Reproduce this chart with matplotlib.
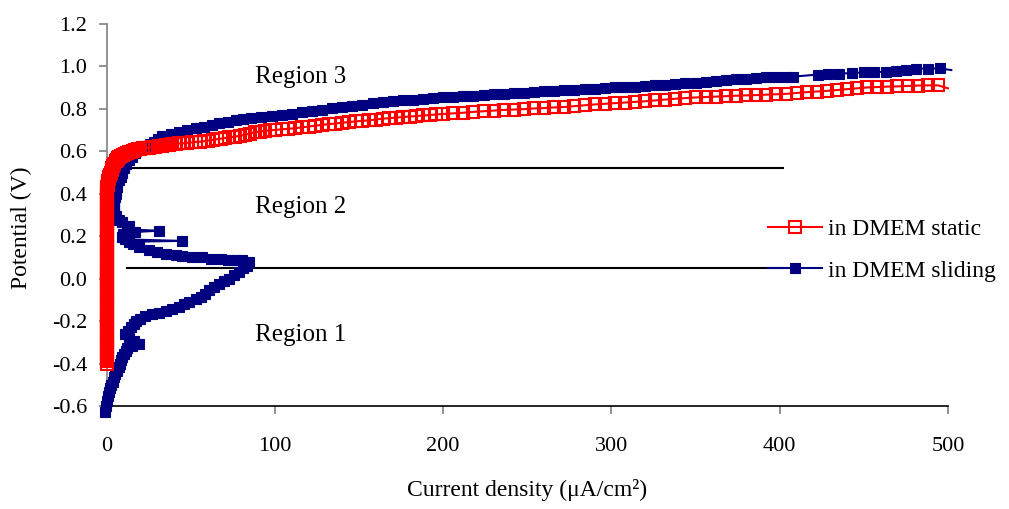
import matplotlib
matplotlib.use("Agg")
import matplotlib.pyplot as plt

plt.rcParams['font.family'] = ['Liberation Serif', 'DejaVu Serif']

# --- Sliding in DMEM: current density (uA/cm2) and potential (V), in scan order
sliding_i = [
    -0.8, -0.6, 0.0, 0.8, 1.4, 2.0, 2.8, 3.6, 4.3, 5.2, 6.2, 7.3, 8.0, 8.8, 9.3,
    10.3, 11.3, 12.3, 15, 19, 16, 13, 11, 12.5, 14.5, 16, 17.5, 20, 23, 27, 31,
    35, 39, 43, 46, 49, 53, 56, 58.5, 61, 64, 66.7, 69.5, 72.6, 75.5, 78.5, 81,
    83.5, 84.5,
    80.5, 76.6, 72, 67.7, 62, 56.8, 50.9, 45, 41, 35, 30, 25, 19, 15.5, 13,
    45, 11, 9.3, 10, 17, 31, 12, 13, 9, 7.3, 5.5, 4.5, 4.3, 4.3, 4.3, 4.5, 5,
    5.3, 5.6, 6, 6.3, 7.3, 8.3, 9.3, 10.3, 11.5, 13, 15, 17, 20, 23, 25.5, 28,
    30.5, 33, 38, 43, 48, 53, 58, 62.7, 67, 72, 77, 81, 86,
    92, 98, 104, 110, 116, 122, 128, 134, 140, 146, 152, 158, 164, 170, 176,
    182, 188, 194, 200, 206, 212, 218, 224, 230, 236, 242, 248, 254, 260, 266,
    272, 278, 284, 290, 296, 302, 308, 314, 320, 326, 332, 338, 344, 350, 356,
    362, 368, 374, 380, 386, 392, 398, 404, 408, 423, 429, 435, 443, 450, 456,
    463, 469, 475, 481, 488, 495, 502,
]
sliding_e = [
    -0.63, -0.60, -0.575, -0.555, -0.535, -0.515, -0.50, -0.485, -0.465, -0.45,
    -0.435, -0.418, -0.40, -0.385, -0.37, -0.355, -0.34, -0.325, -0.318, -0.308,
    -0.295, -0.28, -0.262, -0.245, -0.23, -0.215, -0.20, -0.19, -0.178, -0.168,
    -0.16, -0.152, -0.143, -0.132, -0.12, -0.11, -0.098, -0.085, -0.07, -0.055,
    -0.04, -0.025, -0.012, 0.0, 0.016, 0.033, 0.048, 0.062, 0.078,
    0.088, 0.090, 0.090, 0.091, 0.095, 0.100, 0.103, 0.108, 0.110, 0.118, 0.126,
    0.135, 0.150, 0.162, 0.174,
    0.178, 0.185, 0.198, 0.21, 0.22, 0.226, 0.232, 0.25, 0.265, 0.277, 0.295,
    0.31, 0.324, 0.34, 0.355, 0.37, 0.385, 0.40, 0.415, 0.43, 0.45, 0.465,
    0.48, 0.50, 0.52, 0.54, 0.56, 0.575, 0.59, 0.61, 0.627, 0.636, 0.645,
    0.658, 0.67, 0.68, 0.69, 0.70, 0.709, 0.717, 0.724, 0.732, 0.74, 0.748,
    0.752, 0.757,
    0.761, 0.766, 0.772, 0.778, 0.784, 0.790, 0.796, 0.802, 0.808, 0.814,
    0.820, 0.826, 0.832, 0.836, 0.840, 0.844, 0.848, 0.851, 0.854, 0.857,
    0.860, 0.863, 0.866, 0.868, 0.870, 0.873, 0.876, 0.879, 0.883, 0.886,
    0.889, 0.891, 0.893, 0.895, 0.898, 0.901, 0.903, 0.905, 0.908, 0.912,
    0.915, 0.918, 0.921, 0.924, 0.928, 0.932, 0.936, 0.940, 0.943, 0.946,
    0.948, 0.950, 0.951, 0.952, 0.962, 0.964, 0.966, 0.969, 0.972, 0.973,
    0.975, 0.979, 0.984, 0.990, 0.990, 0.991, 0.983,
]

# --- Static in DMEM (near-zero current up to ~0.44 V, then the anodic rise)
static_i = [
    0.3, 0.4, 0.3, 0.2, 0.3, 0.4, 0.3, 0.2, 0.3, 0.4,
    0.3, 0.2, 0.3, 0.4, 0.3, 0.2, 0.3, 0.4, 0.3, 0.2,
    0.3, 0.4, 0.3, 0.2, 0.3, 0.4, 0.3, 0.2, 0.3, 0.4,
    0.3, 0.2, 0.3, 0.4, 0.3, 0.2, 0.3, 0.4, 0.3, 0.2,
    0.3, 0.4, 0.3, 0.2, 0.3, 0.4, 0.3, 0.2, 0.3, 0.4,
    0.3, 0.2, 0.3, 0.4, 0.3, 0.2, 0.3, 0.4, 0.3, 0.2,
    0.3, 0.4, 0.3, 0.2, 0.3, 0.4, 0.3, 0.2, 0.3, 0.4,
    0.3, 0.2, 0.3, 0.4, 0.3, 0.2, 0.3, 0.4, 0.3, 0.3,
    0.4, 0.4, 0.5, 0.5, 0.6,
    0.8, 1.0, 1.3, 1.6, 2.0, 2.4, 2.9, 3.4, 4.0, 4.6,
    5.3, 6, 6.7, 7.5, 8.5, 9.5, 10.7, 12, 13.2, 14.5,
    15.7, 17, 18.5, 20, 21.7, 23.5, 25.2, 27, 29, 31,
    33, 35, 37, 39, 41, 43, 45.5, 48, 50.5, 53,
    55.5, 58, 60.5, 63, 65.5, 68, 70.5, 73, 76, 79,
    82, 85, 88, 91, 94, 97,
    100, 104, 108, 112, 116, 120, 124, 128, 132, 136,
    140, 144, 148, 152, 156, 160, 164, 168, 172, 176,
    180, 184, 188, 192, 196, 200,
    206, 212, 218, 224, 230, 236, 242, 248, 254, 260,
    266, 272, 278, 284, 290, 296, 302, 308, 314, 320,
    326, 332, 338, 344, 350, 356, 362, 368, 374, 380,
    386, 392, 398, 404, 410, 416, 422, 428, 434, 440,
    446, 452, 458, 464, 470, 476, 482, 488, 494, 500,
]
static_e = [
    -0.40, -0.39, -0.38, -0.37, -0.36, -0.35, -0.34, -0.33, -0.32, -0.31,
    -0.30, -0.29, -0.28, -0.27, -0.26, -0.25, -0.24, -0.23, -0.22, -0.21,
    -0.20, -0.19, -0.18, -0.17, -0.16, -0.15, -0.14, -0.13, -0.12, -0.11,
    -0.10, -0.09, -0.08, -0.07, -0.06, -0.05, -0.04, -0.03, -0.02, -0.01,
    0.00, 0.01, 0.02, 0.03, 0.04, 0.05, 0.06, 0.07, 0.08, 0.09,
    0.10, 0.11, 0.12, 0.13, 0.14, 0.15, 0.16, 0.17, 0.18, 0.19,
    0.20, 0.21, 0.22, 0.23, 0.24, 0.25, 0.26, 0.27, 0.28, 0.29,
    0.30, 0.31, 0.32, 0.33, 0.34, 0.35, 0.36, 0.37, 0.38, 0.39,
    0.40, 0.41, 0.42, 0.43, 0.44,
    0.45, 0.46, 0.47, 0.48, 0.49, 0.50, 0.51, 0.52, 0.53, 0.54,
    0.555, 0.561, 0.567, 0.572, 0.577, 0.582, 0.586, 0.590, 0.595, 0.599,
    0.603, 0.606, 0.609, 0.612, 0.614, 0.616, 0.618, 0.620, 0.622, 0.625,
    0.627, 0.629, 0.631, 0.633, 0.635, 0.637, 0.638, 0.640, 0.642, 0.644,
    0.645, 0.648, 0.651, 0.654, 0.657, 0.660, 0.663, 0.666, 0.669, 0.673,
    0.678, 0.684, 0.690, 0.693, 0.696, 0.699,
    0.701, 0.704, 0.706, 0.709, 0.713, 0.717, 0.721, 0.725, 0.728, 0.731,
    0.735, 0.738, 0.741, 0.744, 0.746, 0.750, 0.754, 0.756, 0.759, 0.762,
    0.764, 0.766, 0.769, 0.771, 0.774, 0.776,
    0.779, 0.782, 0.786, 0.789, 0.792, 0.795, 0.797, 0.799, 0.802, 0.804,
    0.807, 0.809, 0.813, 0.817, 0.821, 0.824, 0.827, 0.830, 0.833, 0.836,
    0.840, 0.844, 0.848, 0.851, 0.854, 0.856, 0.858, 0.860, 0.862, 0.864,
    0.865, 0.867, 0.869, 0.871, 0.875, 0.879, 0.882, 0.885, 0.889, 0.893,
    0.897, 0.901, 0.903, 0.905, 0.906, 0.908, 0.910, 0.911, 0.911, 0.897,
]
assert len(static_i) == len(static_e)
assert len(sliding_i) == len(sliding_e)

# Region boundaries (potential, V) and their current-density extent
boundary_e = [0.522, 0.052]
boundary_i = [12, 402]

region_labels = ["Region 3", "Region 2", "Region 1"]
region_pos = [(115, 0.95), (115, 0.338), (115, -0.265)]

x_ticks = [0, 100, 200, 300, 400, 500]
y_ticks = [-0.6, -0.4, -0.2, 0.0, 0.2, 0.4, 0.6, 0.8, 1.0, 1.2]

fig = plt.figure(figsize=(10.09, 5.09), dpi=100)
ax = fig.add_axes([0.1057, 0.2024, 0.8338, 0.7504])

navy = "#000080"
red = "#ff0000"

ax.plot(sliding_i, sliding_e, color=navy, lw=1.5, marker="s", ms=7.0,
        mfc=navy, mec=navy, mew=0.8, markevery=slice(0, len(sliding_i) - 1),
        clip_on=False, zorder=3, label="in DMEM sliding")
ax.plot(static_i, static_e, color=red, lw=1.5, marker="s", ms=8.0,
        mfc="none", mec=red, mew=1.5, markevery=slice(0, len(static_i) - 1),
        clip_on=False, zorder=4, label="in DMEM static")

for e in boundary_e:
    ax.plot(boundary_i, [e, e], color="black", lw=1.5, zorder=2)

for txt, (x, y) in zip(region_labels, region_pos):
    ax.text(x, y, txt, fontsize=18, ha="center", va="center")

ax.set_xlim(0, 500)
ax.set_ylim(-0.6, 1.2)
ax.set_xticks(x_ticks)
ax.set_yticks(y_ticks)
ax.set_yticklabels([f"{v:.1f}" for v in y_ticks])

for side in ("top", "right"):
    ax.spines[side].set_visible(False)
ax.spines["left"].set_color("#808080")
ax.spines["bottom"].set_color("#000000")
ax.spines["left"].set_linewidth(1.2)
ax.spines["bottom"].set_linewidth(1.2)

ax.tick_params(axis="y", direction="out", length=6, width=1.2, color="#808080",
               labelsize=16, pad=8)
ax.tick_params(axis="x", direction="out", length=6, width=1.2, color="#808080",
               labelsize=16, pad=16)

ax.set_xlabel("Current density (μA/cm²)", fontsize=17)
ax.xaxis.label.set_va("center")
ax.xaxis.set_label_coords(0.5, -0.22)
ax.set_ylabel("Potential (V)", fontsize=17)
ax.yaxis.label.set_va("center")
ax.yaxis.set_label_coords(-0.1007, 0.466)

handles, labels = ax.get_legend_handles_labels()
leg = ax.legend(handles[::-1], labels[::-1], loc="center left",
                bbox_to_anchor=(0.772, 0.408), frameon=False, fontsize=17,
                handlelength=2.3, handletextpad=0.25, labelspacing=0.85,
                numpoints=1, borderpad=0)

fig.savefig("out.png", dpi=100)
